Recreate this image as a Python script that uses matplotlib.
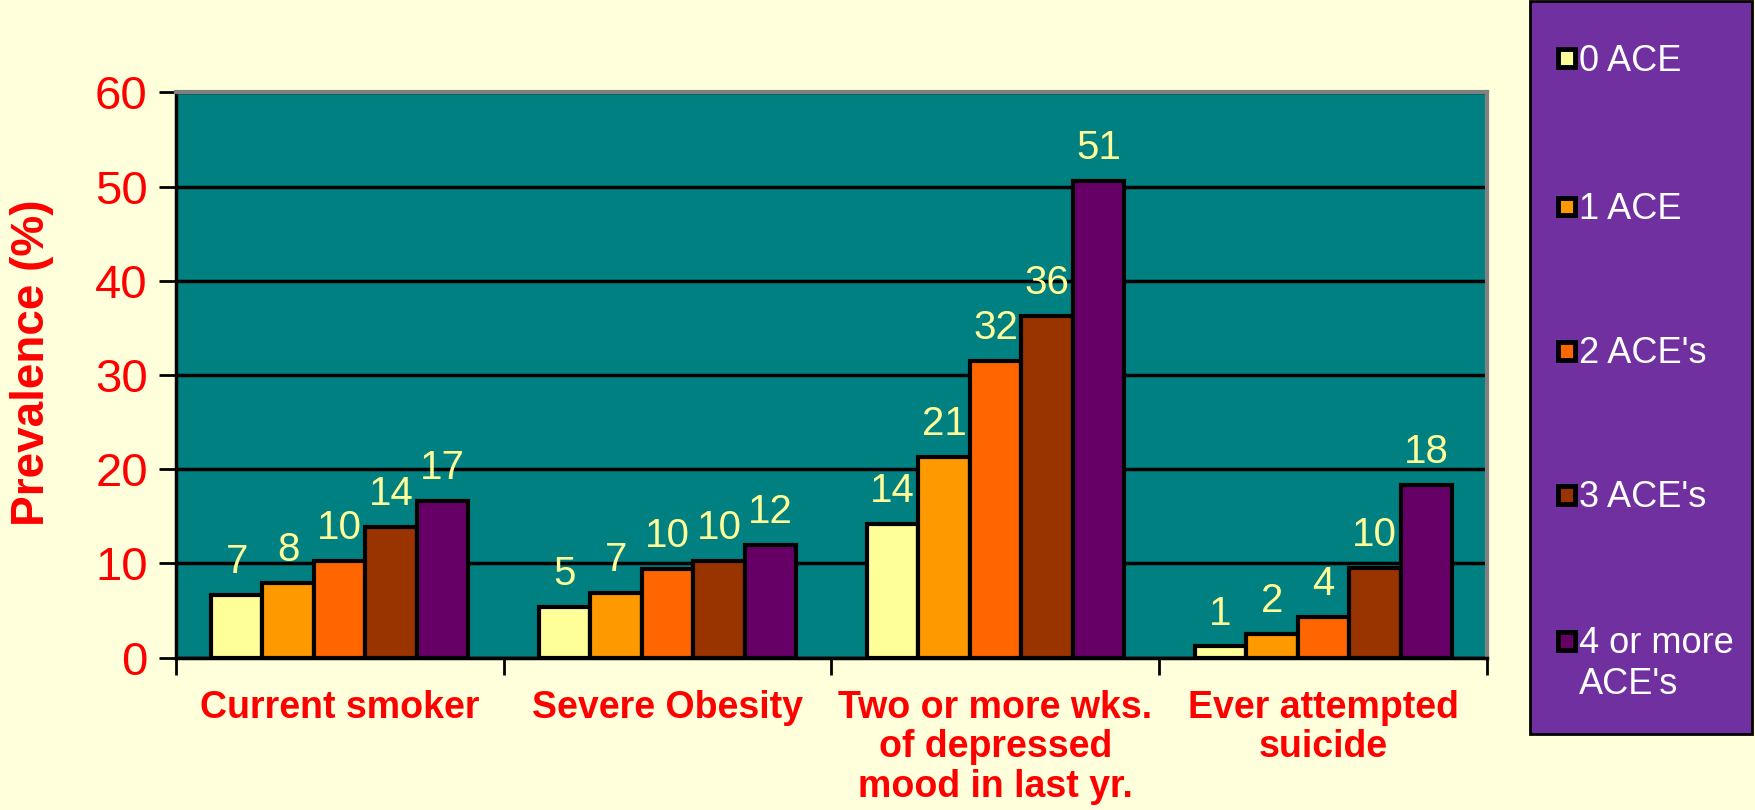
import matplotlib.pyplot as plt
import numpy as np
from matplotlib.patches import Rectangle

plt.rcParams['font.family'] = ['Liberation Sans', 'DejaVu Sans']

categories = ["Current smoker", "Severe Obesity",
              "Two or more wks.\nof depressed\nmood in last yr.",
              "Ever attempted\nsuicide"]
series = ["0 ACE", "1 ACE", "2 ACE's", "3 ACE's", "4 or more\nACE's"]
colors = ["#FFFF99", "#FF9900", "#FF6600", "#993300", "#660066"]
# bar heights per series (one value per category)
values = [
    [6.7, 5.4, 14.2, 1.2],
    [7.9, 6.9, 21.3, 2.5],
    [10.3, 9.4, 31.5, 4.3],
    [13.9, 10.3, 36.3, 9.5],
    [16.6, 12.0, 50.6, 18.3],
]
labels = [
    [7, 5, 14, 1],
    [8, 7, 21, 2],
    [10, 10, 32, 4],
    [14, 10, 36, 10],
    [17, 12, 51, 18],
]

bg = "#FFFFDC"
red = "#FF0000"

fig = plt.figure(figsize=(17.56, 8.10), dpi=100, facecolor=bg)
ax = fig.add_axes([0.100, 0.188, 0.747, 0.698])
ax.set_facecolor("#008080")

x = np.arange(len(categories))
n = len(series)
width = 0.157
for i in range(n):
    pos = x + (i - (n - 1) / 2) * width
    ax.bar(pos, values[i], width, color=colors[i], edgecolor="black",
           linewidth=3, zorder=3)
    for xp, v, lab in zip(pos, values[i], labels[i]):
        ax.annotate(str(lab), (xp, v), xytext=(0, 10), textcoords="offset points",
                    ha="center", va="bottom", fontsize=29, color="#FFFF99", zorder=4)

ax.set_xlim(-0.5, len(categories) - 0.5)
ax.set_ylim(0, 60)
ax.set_yticks(range(0, 61, 10))
ax.yaxis.grid(True, color="black", linewidth=2.5, zorder=1)
ax.set_axisbelow(True)

ax.set_xticks(x)
ax.set_xticklabels(categories, fontsize=27, fontweight="bold", color=red,
                   linespacing=1.13)
ax.tick_params(axis="x", which="major", length=0, pad=23)
ax.set_xticks(np.arange(-0.5, len(categories), 1), minor=True)
ax.tick_params(axis="x", which="minor", length=12, width=2, direction="out")
ax.tick_params(axis="y", length=12, width=2, direction="out", pad=8,
               labelsize=34, labelcolor=red)

for s in ["top", "right"]:
    ax.spines[s].set_color("#808080")
    ax.spines[s].set_linewidth(3)
for s in ["left", "bottom"]:
    ax.spines[s].set_color("black")
    ax.spines[s].set_linewidth(2.5)

fig.text(0.018, 0.552, "Prevalence (%)", rotation=90, ha="center", va="center",
         fontsize=33, fontweight="bold", color=red)

# legend box
fig.patches.append(Rectangle((0.8715, 0.094), 0.1265, 0.905, transform=fig.transFigure,
                             facecolor="#7030A0", edgecolor="black", linewidth=2))
leg_y = [0.928, 0.745, 0.567, 0.389, 0.209]
for lab, col, yy in zip(series, colors, leg_y):
    fig.patches.append(Rectangle((0.8875, yy - 0.011), 0.0095, 0.022,
                                 transform=fig.transFigure, facecolor=col,
                                 edgecolor="black", linewidth=3.5))
    fig.text(0.899, yy + 0.018, lab, ha="left", va="top", fontsize=26,
             color="white", linespacing=1.2)

fig.savefig("out.png", dpi=100, facecolor=bg)
